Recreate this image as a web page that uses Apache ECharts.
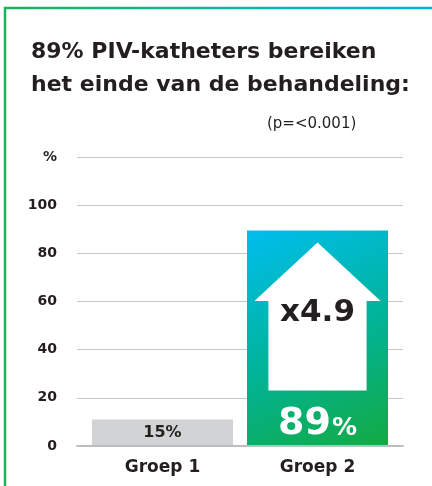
<!DOCTYPE html>
<html>
<head>
<meta charset="utf-8">
<script src="https://cdn.jsdelivr.net/npm/echarts@6/dist/echarts.min.js"></script>
<style>
html,body{margin:0;padding:0;background:#fff;}
#chart{width:432px;height:486px;}
</style>
</head>
<body>
<div id="chart"></div>
<script>
const categories = ['Groep 1', 'Groep 2'];
const barHeights = [11, 89.5];
const valueLabels = ['15%', '89%'];
const yTickLabels = ['0', '20', '40', '60', '80', '100', '%'];
const multiplierLabel = 'x4.9';
const titleText = '89% PIV-katheters bereiken\nhet einde van de behandeling:';
const pValueText = '(p=<0.001)';

const FONT = 'DejaVu Sans';
const DARK = '#231f20';

const chart = echarts.init(document.getElementById('chart'), null, {renderer: 'canvas'});

function renderBar(params, api) {
  const i = api.value(0);
  const v = api.value(1);
  const top = api.coord([i, v]);
  const base = api.coord([i, 0]);
  const bw = api.size([1, 0])[0] * 0.91;
  const x = top[0] - bw / 2;
  const y = top[1];
  const h = base[1] - top[1];
  const cx = top[0];
  const children = [];
  if (i === 0) {
    children.push({type: 'rect', shape: {x: x, y: y, width: bw, height: h}, style: {fill: '#d1d3d4'}});
    children.push({type: 'text', style: {text: valueLabels[i], x: cx, y: y + h / 2, align: 'center', verticalAlign: 'middle',
      fontFamily: FONT, fontWeight: 'bold', fontSize: 16, fill: DARK}});
  } else {
    children.push({type: 'rect', shape: {x: x, y: y, width: bw, height: h},
      style: {fill: {type: 'linear', x: 0.15, y: 0, x2: 0.85, y2: 1, global: false,
        colorStops: [{offset: 0, color: '#00bde9'}, {offset: 0.5, color: '#00b49c'}, {offset: 1, color: '#12ab48'}]}}});
    const tipY = y + h * 0.056;
    const headY = y + h * 0.327;
    const shaftBottom = y + h * 0.742;
    const headHalf = bw * 0.447;
    const shaftHalf = bw * 0.348;
    children.push({type: 'polygon', shape: {points: [
      [cx, tipY], [cx + headHalf, headY], [cx + shaftHalf, headY], [cx + shaftHalf, shaftBottom],
      [cx - shaftHalf, shaftBottom], [cx - shaftHalf, headY], [cx - headHalf, headY]
    ]}, style: {fill: '#ffffff'}});
    children.push({type: 'text', style: {text: multiplierLabel, x: cx, y: y + h * 0.385, align: 'center', verticalAlign: 'middle',
      fontFamily: FONT, fontWeight: 'bold', fontSize: 31, fill: DARK}});
    const num = valueLabels[i].replace('%', '');
    children.push({type: 'text', style: {text: '{a|' + num + '}{b|%}', x: cx, y: y + h * 0.90, align: 'center', verticalAlign: 'middle',
      fill: '#ffffff', rich: {
        a: {fontFamily: FONT, fontWeight: 'bold', fontSize: 38, fill: '#ffffff'},
        b: {fontFamily: FONT, fontWeight: 'bold', fontSize: 25, fill: '#ffffff', padding: [8, 0, 0, 1]}
      }}});
  }
  return {type: 'group', children: children};
}

const option = {
  animation: false,
  backgroundColor: '#ffffff',
  title: [
    {text: titleText, left: 31, top: 36, padding: 0,
      textStyle: {fontFamily: FONT, fontWeight: 'bold', fontSize: 22, lineHeight: 33, color: DARK}},
    {text: pValueText, left: 267, top: 117, padding: 0,
      textStyle: {fontFamily: FONT, fontWeight: 'normal', fontSize: 15, color: DARK}}
  ],
  graphic: [
    {type: 'line', shape: {x1: 4, y1: 8, x2: 432, y2: 8},
      style: {lineWidth: 2.5, stroke: {type: 'linear', x: 0, y: 0, x2: 1, y2: 0, global: false,
        colorStops: [{offset: 0, color: '#1bb45a'}, {offset: 1, color: '#03b6e0'}]}}},
    {type: 'line', shape: {x1: 5, y1: 7, x2: 5, y2: 486}, style: {lineWidth: 2.5, stroke: '#1bb45a'}}
  ],
  grid: [
    {left: 85, right: 37, top: 157, bottom: 40},
    {left: 77, right: 29, top: 157, bottom: 40}
  ],
  xAxis: [
    {type: 'category', gridIndex: 0, data: categories,
      axisLine: {show: false}, axisTick: {show: false},
      axisLabel: {margin: 13, fontFamily: FONT, fontWeight: 'bold', fontSize: 17, color: DARK}},
    {type: 'value', gridIndex: 1, min: 0, max: 1, z: 5,
      axisLine: {show: true, lineStyle: {color: '#bcbec0', width: 2}},
      axisTick: {show: false}, axisLabel: {show: false}, splitLine: {show: false}}
  ],
  yAxis: [
    {type: 'value', gridIndex: 0, min: 0, max: 120, interval: 20, show: false},
    {type: 'value', gridIndex: 1, min: 0, max: 120, interval: 20,
      axisLine: {show: false}, axisTick: {show: false},
      splitLine: {show: true, lineStyle: {color: '#c7c8ca', width: 1}},
      axisLabel: {margin: 20, fontFamily: FONT, fontWeight: 'bold', fontSize: 14, color: DARK,
        formatter: function (v) { return yTickLabels[Math.round(v / 20)]; }}}
  ],
  series: [
    {type: 'custom', xAxisIndex: 0, yAxisIndex: 0, z: 3,
      data: categories.map(function (c, i) { return [i, barHeights[i]]; }),
      renderItem: renderBar}
  ]
};
chart.setOption(option);
</script>
</body>
</html>
